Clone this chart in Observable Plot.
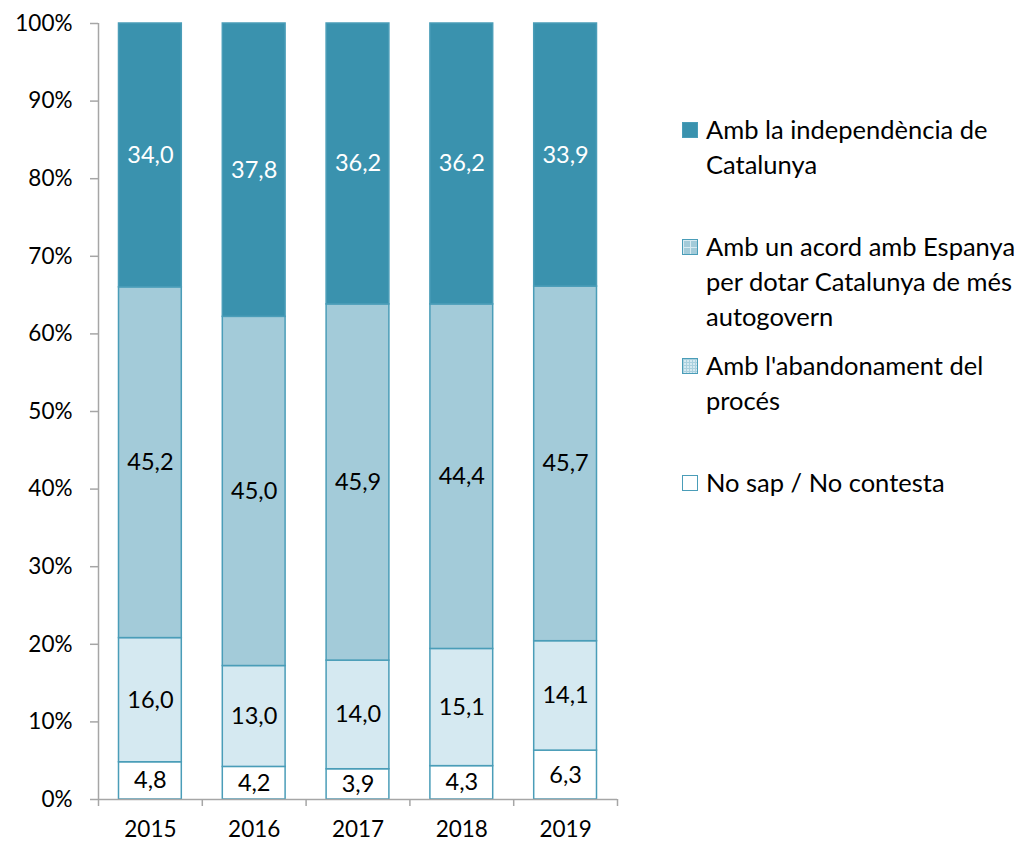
<!DOCTYPE html>
<html><head><meta charset="utf-8">
<script src="https://cdn.jsdelivr.net/npm/d3@7"></script>
<script src="https://cdn.jsdelivr.net/npm/@observablehq/plot@0.6"></script>
<style>
body{margin:0;background:#fff;font-family:Lato,sans-serif;}
#wrap{position:relative;width:1026px;height:844px;overflow:hidden;}
#wrap svg{position:absolute;left:0;top:0;}
.item{position:absolute;left:682px;display:flex;align-items:flex-start;font-size:25.5px;line-height:35px;color:#000;white-space:nowrap;}
.sw{width:16px;height:16px;box-sizing:border-box;margin-top:9.5px;margin-right:8px;flex:none;border:1px solid #4a9db8;}
</style></head><body><div id="wrap"></div>
<script>
const years = [2015, 2016, 2017, 2018, 2019];
const seriesNames = [
  "No sap / No contesta",
  "Amb l'abandonament del procés",
  "Amb un acord amb Espanya per dotar Catalunya de més autogovern",
  "Amb la independència de Catalunya"
];
const legendLines = [
  ["No sap / No contesta"],
  ["Amb l'abandonament del", "procés"],
  ["Amb un acord amb Espanya", "per dotar Catalunya de més", "autogovern"],
  ["Amb la independència de", "Catalunya"]
];
const noSap = [4.8, 4.2, 3.9, 4.3, 6.3];
const abandonament = [16.0, 13.0, 14.0, 15.1, 14.1];
const acord = [45.2, 45.0, 45.9, 44.4, 45.7];
const independencia = [34.0, 37.8, 36.2, 36.2, 33.9];
const yTicks = [0, 10, 20, 30, 40, 50, 60, 70, 80, 90, 100];
const colors = ["#ffffff", "#d5e9f1", "#a3cbd9", "#3a92ae"];
const legendTops = [465, 348, 229, 112];

const seriesValues = [noSap, abandonament, acord, independencia];
const data = [];
years.forEach((year, i) => {
  let base = 0;
  seriesValues.forEach((vals, s) => {
    const v = vals[i];
    data.push({year, s, value: v, y1: base, y2: base + v});
    base += v;
  });
});
const xDomain = [years[0] - 0.5, years[years.length - 1] + 0.5];
const boundaries = d3.range(years.length + 1).map(k => xDomain[0] + k);
const fmt = v => v.toFixed(1).replace(".", ",");
const gray = "#a6a6a6";
const edge = "#4a9db8";

const chart = Plot.plot({
  width: 1026,
  height: 844,
  marginLeft: 98,
  marginRight: 409,
  marginTop: 23,
  marginBottom: 45,
  style: {fontFamily: "Lato, sans-serif", background: "transparent"},
  x: {type: "linear", domain: xDomain},
  y: {domain: [0, 100]},
  color: {type: "ordinal", domain: [0, 1, 2, 3], range: colors},
  marks: [
    Plot.rect(data, {
      x1: d => d.year - 0.5, x2: d => d.year + 0.5, y1: "y1", y2: "y2",
      fill: "s", stroke: edge, strokeWidth: 1.5, insetLeft: 20.5, insetRight: 20.5
    }),
    Plot.text(data.filter(d => d.s < 3), {
      x: d => d.year, y: d => (d.y1 + d.y2) / 2, text: d => fmt(d.value),
      fill: "#000", fontSize: 23.5
    }),
    Plot.text(data.filter(d => d.s === 3), {
      x: d => d.year, y: d => (d.y1 + d.y2) / 2, text: d => fmt(d.value),
      fill: "#fff", fontSize: 23.5
    }),
    Plot.ruleX([xDomain[0]], {y1: 0, y2: 100, stroke: gray, strokeWidth: 1.5}),
    Plot.ruleY([0], {x1: xDomain[0], x2: xDomain[1], stroke: gray, strokeWidth: 1.5}),
    Plot.axisY({ticks: yTicks, tickSize: 8, tickPadding: 18, tickFormat: d => d + "%",
      fontSize: 22.5, stroke: gray, fill: "#000", strokeWidth: 1.5}),
    Plot.axisX({ticks: boundaries, tickSize: 7, tickFormat: () => "", stroke: gray, strokeWidth: 1.5}),
    Plot.axisX({ticks: years, tickSize: 0, tickPadding: 22, tickFormat: d => String(d),
      fontSize: 22.5, fill: "#000"})
  ]
});
const wrap = document.getElementById("wrap");
wrap.appendChild(chart);

const swatchStyles = [
  "background:#fff;border:1.5px solid #4a9db8;",
  "background-color:#d5e9f1;background-image:linear-gradient(#a9d0de 1px,transparent 1px),linear-gradient(90deg,#a9d0de 1px,transparent 1px);background-size:3px 3px;",
  "background-color:#a3cbd9;background-image:linear-gradient(#d7eaf1 1px,transparent 1px),linear-gradient(90deg,#d7eaf1 1px,transparent 1px);background-size:7px 7px;",
  "background:#3a92ae;"
];
seriesNames.forEach((name, s) => {
  const item = document.createElement("div");
  item.className = "item";
  item.style.top = legendTops[s] + "px";
  item.title = name;
  const sw = document.createElement("div");
  sw.className = "sw";
  sw.style.cssText += swatchStyles[s];
  const txt = document.createElement("div");
  txt.innerHTML = legendLines[s].join("<br>");
  item.appendChild(sw);
  item.appendChild(txt);
  wrap.appendChild(item);
});
</script>
</body></html>
